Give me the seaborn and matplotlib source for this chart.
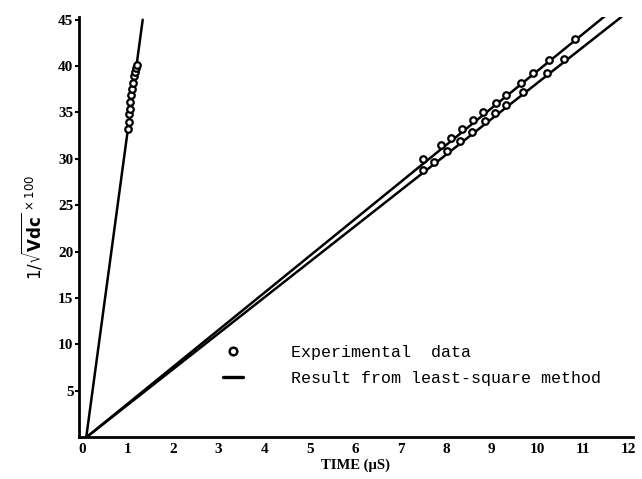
import matplotlib
matplotlib.use("Agg")
import matplotlib.pyplot as plt
import seaborn as sns
import pandas as pd
from matplotlib.lines import Line2D

# ---- data ----
steep_x = [1.00, 1.02, 1.03, 1.05, 1.06, 1.08, 1.10, 1.12, 1.14, 1.17, 1.19, 1.21]
steep_y = [33.2, 34.0, 34.8, 35.4, 36.1, 36.9, 37.5, 38.2, 38.9, 39.4, 39.8, 40.1]

upper_x = [7.48, 7.88, 8.10, 8.35, 8.60, 8.81, 9.10, 9.32, 9.65, 9.90, 10.26, 10.84]
upper_y = [30.0, 31.5, 32.3, 33.2, 34.2, 35.0, 36.0, 36.9, 38.2, 39.3, 40.7, 42.9]

lower_x = [7.48, 7.74, 8.02, 8.30, 8.57, 8.86, 9.08, 9.32, 9.68, 10.22, 10.60]
lower_y = [28.8, 29.7, 30.9, 31.9, 32.9, 34.1, 34.9, 35.8, 37.2, 39.3, 40.8]

# least-square lines (end points)
steep_line_x = [0.09, 1.33]
steep_line_y = [0.0, 45.0]
upper_line_x = [0.10, 11.54]
upper_line_y = [0.0, 45.6]
lower_line_x = [0.10, 11.85]
lower_line_y = [0.0, 45.3]

x_ticks = list(range(0, 13))
y_ticks = [5, 10, 15, 20, 25, 30, 35, 40, 45]

sns.set_theme(style="ticks")
plt.rcParams["font.family"] = ["Liberation Serif", "DejaVu Serif"]
plt.rcParams["text.color"] = "black"
plt.rcParams["axes.labelcolor"] = "black"

fig = plt.figure(figsize=(6.42, 4.79), dpi=100)
ax = fig.add_axes([79 / 642, 42 / 479, 553.7 / 642, 420 / 479])

lines = pd.DataFrame({
    "x": steep_line_x + upper_line_x + lower_line_x,
    "y": steep_line_y + upper_line_y + lower_line_y,
    "g": ["s"] * 2 + ["u"] * 2 + ["l"] * 2,
})
sns.lineplot(data=lines, x="x", y="y", units="g", estimator=None,
             color="black", linewidth=1.8, ax=ax, legend=False, sort=False)

pts = pd.DataFrame({
    "x": steep_x + upper_x + lower_x,
    "y": steep_y + upper_y + lower_y,
})
sns.scatterplot(data=pts, x="x", y="y", marker="o", s=22, facecolor="white",
                edgecolor="black", linewidth=1.6, ax=ax, zorder=3, legend=False)

ax.set_xlim(-0.07, 12.1)
ax.set_ylim(0, 45.3)
ax.set_xticks(x_ticks)
ax.set_yticks(y_ticks)
ax.set_xticklabels([str(t) for t in x_ticks], fontweight="bold", fontsize=11)
ax.set_yticklabels([str(t) for t in y_ticks], fontweight="bold", fontsize=11)
ax.tick_params(axis="x", length=0, pad=4, colors="black")
ax.tick_params(axis="y", length=3, width=1.5, pad=1, colors="black")
sns.despine(ax=ax)
for s in ("left", "bottom"):
    ax.spines[s].set_linewidth(2.0)
    ax.spines[s].set_color("black")

ax.set_xlabel("TIME (µS)", fontweight="bold", fontsize=10.5, labelpad=2, color="black")
ax.set_ylabel(r"$1/\sqrt{\mathbf{Vdc}}^{\,\times100}$", fontsize=12, labelpad=10, color="black")

handles = [
    Line2D([], [], linestyle="none", marker="o", markersize=5.5,
           markerfacecolor="white", markeredgecolor="black", markeredgewidth=1.8),
    Line2D([], [], color="black", linewidth=2.4),
]
leg = ax.legend(handles, ["Experimental  data", "Result from least-square method"],
                loc="upper left", bbox_to_anchor=(0.233, 0.254), frameon=False,
                prop={"family": "Liberation Mono", "size": 12},
                handlelength=1.2, handletextpad=2.9, labelspacing=0.65)
for t in leg.get_texts():
    t.set_color("black")

fig.savefig("out.png", dpi=100)
